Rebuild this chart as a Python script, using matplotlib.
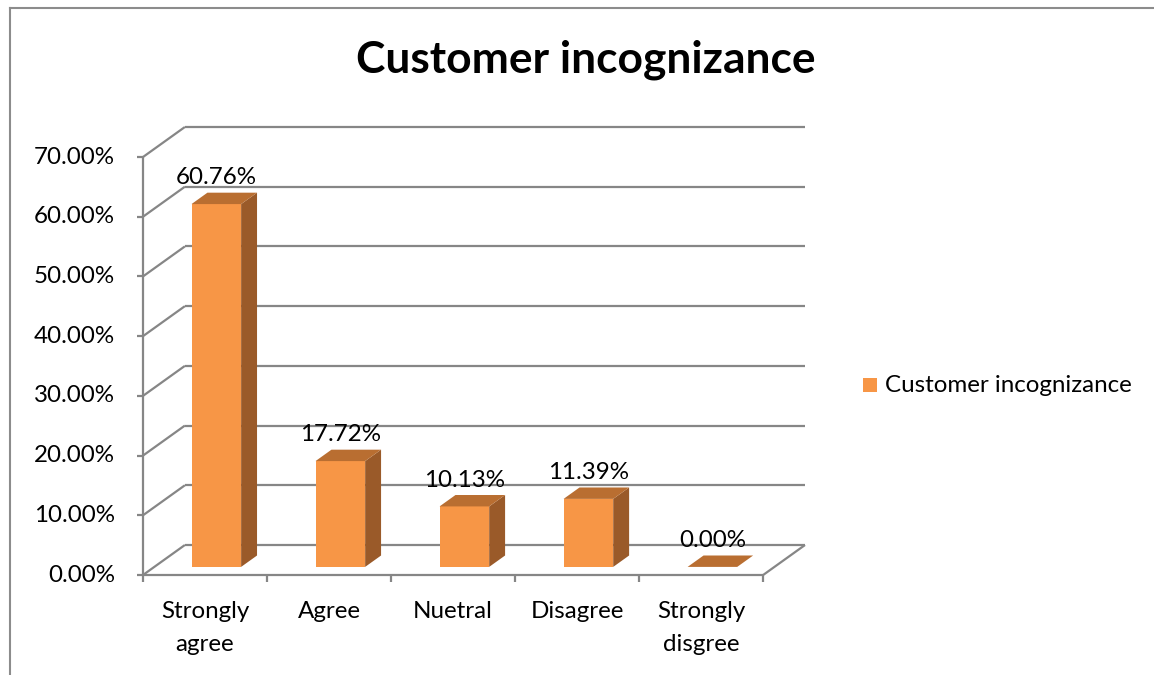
import numpy as np
import matplotlib.pyplot as plt
from matplotlib.patches import Polygon, Rectangle
from matplotlib.lines import Line2D

plt.rcParams["font.family"] = ["Lato", "DejaVu Sans"]

# data
categories = ["Strongly\nagree", "Agree", "Nuetral", "Disagree", "Strongly\ndisgree"]
values = [60.76, 17.72, 10.13, 11.39, 0.00]
series_name = "Customer incognizance"
title = "Customer incognizance"
yticks = [0, 10, 20, 30, 40, 50, 60, 70]

# style
c_front = "#F79646"
c_top = "#B96E31"
c_side = "#9A5A29"
c_grid = "#868686"
fs = 17.4

W, H = 1154, 675
fig = plt.figure(figsize=(W / 100, H / 100), dpi=100)

# axes = front plane of the 3d box (pixels)
x0, x1, y0, y1 = 143, 805, 575, 127
ax = fig.add_axes([x0 / W, 1 - y0 / H, (x1 - x0) / W, (y0 - y1) / H])
ax.axis("off")

n = len(categories)
ymax = yticks[-1]
px_per_cat = (765 - 143) / n
px_per_pct = (y0 - y1) / (ymax + 5.03)
dx = 42 / px_per_cat      # depth in category units
dy = 30 / px_per_pct      # depth in percent units
ax.set_xlim(-0.5, n - 0.5 + dx)
ax.set_ylim(0, ymax + dy)

lk = dict(color=c_grid, lw=1.6, clip_on=False, solid_capstyle="butt")

# back wall gridlines + left wall diagonals
for v in yticks:
    ax.plot([-0.5 + dx, n - 0.5 + dx], [v + dy, v + dy], **lk)
    ax.plot([-0.5, -0.5 + dx], [v, v + dy], **lk)
# floor front edge and right edge
ax.plot([-0.5, n - 0.5], [0, 0], **lk)
ax.plot([n - 0.5, n - 0.5 + dx], [0, dy], **lk)
# vertical axis line
ax.plot([-0.5, -0.5], [0, ymax], **lk)

# y ticks and labels
for v in yticks:
    ax.plot([-0.5 - 6 / px_per_cat, -0.5], [v, v], **lk)
    ax.text(-0.5 - 28 / px_per_cat, v, f"{v:.2f}%", ha="right", va="center",
            fontsize=fs, color="black")

# x ticks and category labels
for i in range(n + 1):
    ax.plot([i - 0.5, i - 0.5], [0, -7 / px_per_pct], **lk)
for i, lab in enumerate(categories):
    ax.text(i, -26 / px_per_pct, lab, ha="center", va="top", fontsize=fs,
            linespacing=1.7, color="black")

# bars with 3d faces
bw = 0.4
fz = 0.27               # front plane position of bars, as fraction of depth
bd = 0.38               # bar depth, as fraction of depth
for i, v in enumerate(values):
    xl = i - bw / 2 + fz * dx
    xr = xl + bw
    yb = fz * dy
    yt = yb + v
    ddx, ddy = bd * dx, bd * dy
    if v > 0:
        ax.add_patch(Rectangle((xl, yb), bw, v, facecolor=c_front,
                               edgecolor="none", zorder=3))
        ax.add_patch(Polygon([(xr, yb), (xr + ddx, yb + ddy), (xr + ddx, yt + ddy), (xr, yt)],
                             closed=True, facecolor=c_side, edgecolor="none", zorder=3))
    ax.add_patch(Polygon([(xl, yt), (xr, yt), (xr + ddx, yt + ddy), (xl + ddx, yt + ddy)],
                         closed=True, facecolor=c_top, edgecolor="none", zorder=3))
    ax.text(i + fz * dx, yt + ddy + 2.5, f"{v:.2f}%", ha="center", va="center",
            fontsize=fs, color="black", zorder=4)

# title
fig.text(586 / W, 1 - 60 / H, title, ha="center", va="center",
         fontsize=31.9, fontweight="bold", color="black")

# legend
fig.patches.append(Rectangle((863 / W, 1 - 392 / H), 14 / W, 14 / H,
                             transform=fig.transFigure, facecolor=c_front,
                             edgecolor="none"))
fig.text(885 / W, 1 - 385 / H, series_name, ha="left", va="center",
         fontsize=fs, color="black")

# chart frame (left and top edges visible)
fig.add_artist(Line2D([10 / W, 10 / W], [0, 1 - 8 / H], transform=fig.transFigure,
                      color="#8C8C8C", lw=1.5))
fig.add_artist(Line2D([10 / W, 1], [1 - 8 / H, 1 - 8 / H], transform=fig.transFigure,
                      color="#8C8C8C", lw=1.5))

fig.savefig("out.png", dpi=100)
